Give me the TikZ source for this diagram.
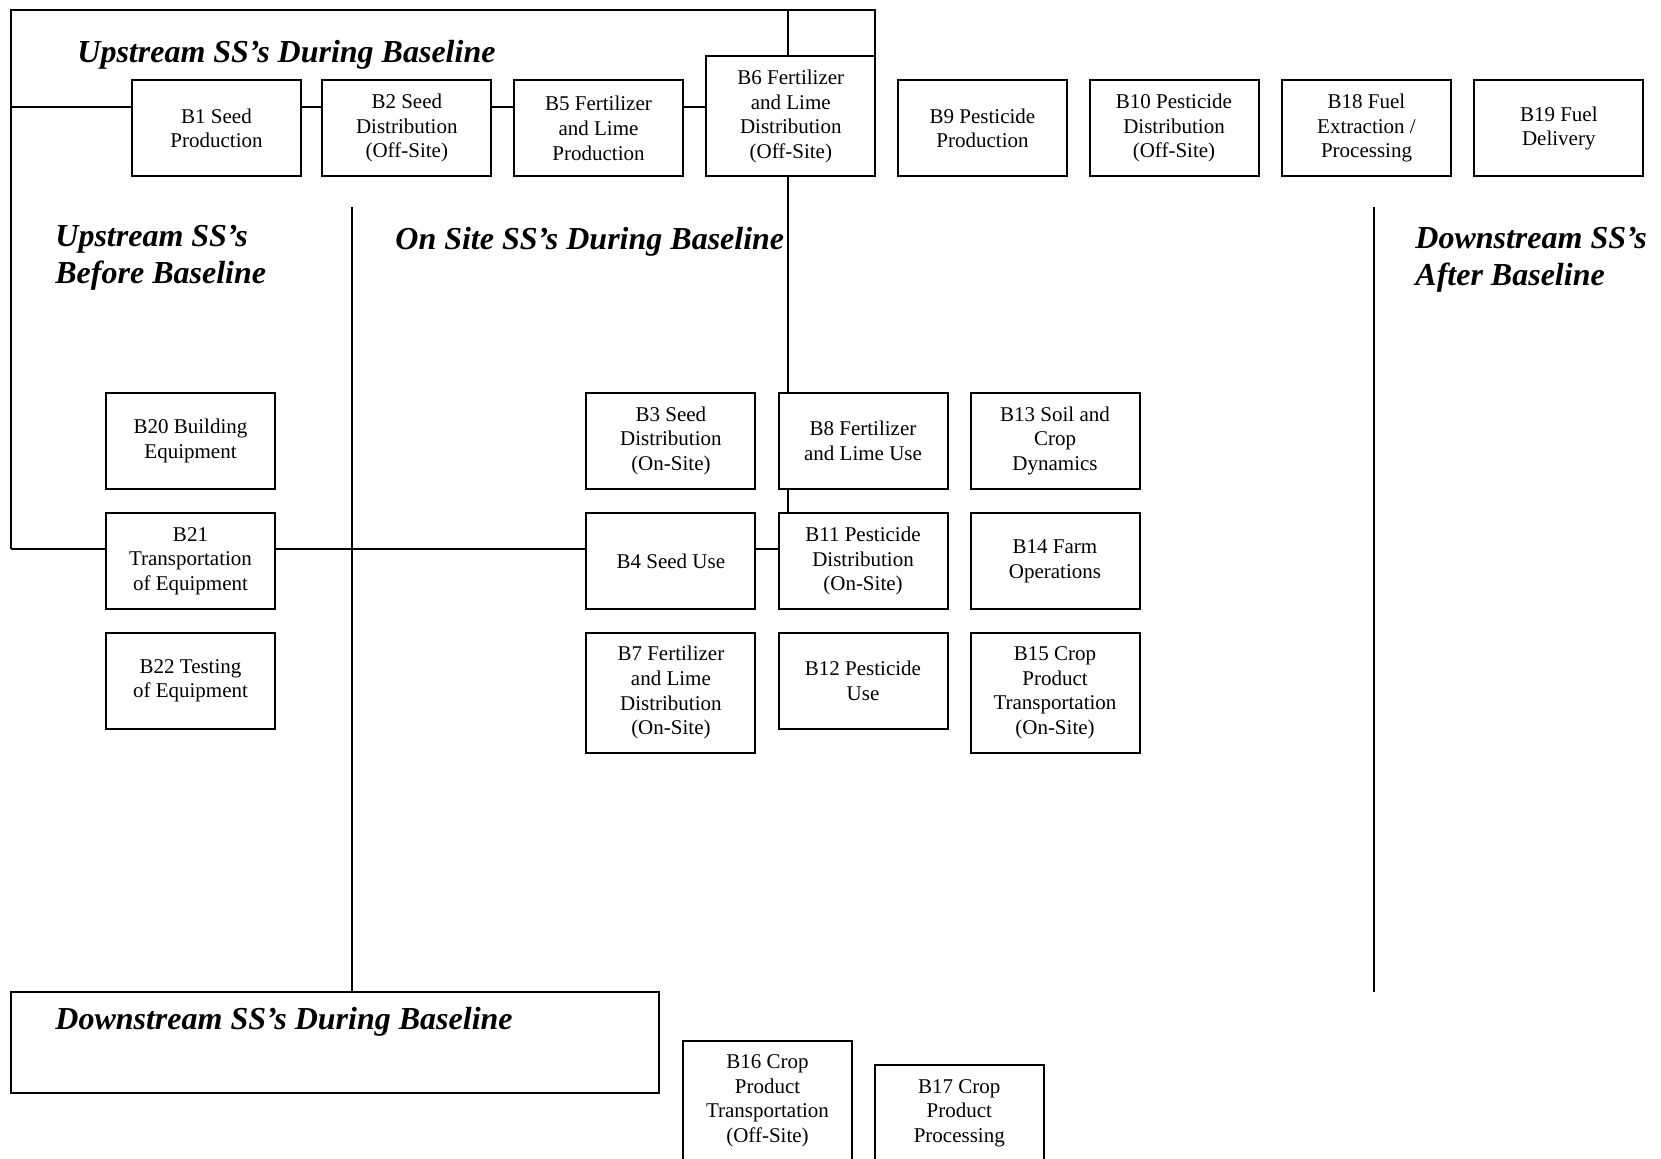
\documentclass[tikz,border=0pt]{standalone}
\usepackage{fontspec}
\setmainfont{Liberation Serif}
\begin{document}
\begin{tikzpicture}[x=0.5pt,y=-0.5pt,
  box/.style={draw, line width=1pt, minimum width=84.5pt, minimum height=48pt, inner sep=0pt, outer sep=0pt, align=center, font=\fontsize{10.5}{12.3}\selectfont},
  tall/.style={box, minimum height=60pt},
  ttl/.style={anchor=base west, inner sep=0pt, font=\fontsize{16}{18.5}\selectfont\bfseries\itshape},
  ln/.style={line width=1pt}]
\useasboundingbox (0,0) rectangle (1661,1158);
\clip (0,0) rectangle (1661,1158);
\fill[white] (0,0) rectangle (1661,1158);

% top row
\node[box] (b1) at (216.5,128.3) {B1 Seed\\Production};
\node[box] (b2) at (406.8,128.3) {B2 Seed\\Distribution\\(Off-Site)};
\node[box] (b5) at (598.5,128.3) {B5 Fertilizer\\and Lime\\Production};
\node[tall] (b6) at (790.8,116.3) {B6 Fertilizer\\and Lime\\Distribution\\(Off-Site)};
\node[box] (b9) at (982.5,128.3) {B9 Pesticide\\Production};
\node[box] (b10) at (1174,128.3) {B10 Pesticide\\Distribution\\(Off-Site)};
\node[box] (b18) at (1366.5,128.3) {B18 Fuel\\Extraction /\\Processing};
\node[box] (b19) at (1558.8,128.3) {B19 Fuel\\Delivery};

% left column
\node[box] (b20) at (190.5,440.8) {B20 Building\\Equipment};
\node[box] (b21) at (190.5,561) {B21\\Transportation\\of Equipment};
\node[box] (b22) at (190.5,680.7) {B22 Testing\\of Equipment};

% on-site grid
\node[box] (b3) at (670.9,440.8) {B3 Seed\\Distribution\\(On-Site)};
\node[box] (b8) at (863,440.8) {B8 Fertilizer\\and Lime Use};
\node[box] (b13) at (1055,440.8) {B13 Soil and\\Crop\\Dynamics};
\node[box] (b4) at (670.9,561) {B4 Seed Use};
\node[box] (b11) at (863,561) {B11 Pesticide\\Distribution\\(On-Site)};
\node[box] (b14) at (1055,561) {B14 Farm\\Operations};
\node[tall] (b7) at (670.9,692.7) {B7 Fertilizer\\and Lime\\Distribution\\(On-Site)};
\node[box] (b12) at (863,680.7) {B12 Pesticide\\Use};
\node[tall] (b15) at (1055,692.7) {B15 Crop\\Product\\Transportation\\(On-Site)};

% bottom
\node[draw, line width=1pt, minimum width=324.2pt, minimum height=50.5pt, inner sep=0pt, outer sep=0pt] (ds) at (334.8,1042.2) {};
\node[tall] (b16) at (767.5,1100.7) {B16 Crop\\Product\\Transportation\\(Off-Site)};
\node[box] (b17) at (959.3,1113) {B17 Crop\\Product\\Processing};

% titles
\node[ttl] (t1) at (77,62) {Upstream SS’s During Baseline};
\node[ttl] (t2a) at (55,246) {Upstream SS’s};
\node[ttl] (t2b) at (55,283) {Before Baseline};
\node[ttl] (t3) at (395,249) {On Site SS’s During Baseline};
\node[ttl] (t4a) at (1415,248) {Downstream SS’s};
\node[ttl] (t4b) at (1415,285) {After Baseline};
\node[ttl] (t5) at (55,1029) {Downstream SS’s During Baseline};

% connectors
\coordinate (tl) at (10.6,9.5);
\coordinate (vx) at (788,9.5);
\coordinate (h1) at (10.6,107);
\coordinate (h2) at (10.6,548.7);
\coordinate (v1) at (351.7,206.6);
\coordinate (v2) at (1374,206.6);

\draw[ln] (h2) -- (tl) -- (tl -| b6.north east) -- (b6.north east);
\draw[ln] (vx) -- (vx |- b6.north);
\draw[ln] (vx |- b6.south) -- (vx |- b8.north);
\draw[ln] (vx |- b8.south) -- (vx |- b11.north);

\draw[ln] (h1) -- (h1 -| b1.west);
\draw[ln] (h1 -| b1.east) -- (h1 -| b2.west);
\draw[ln] (h1 -| b2.east) -- (h1 -| b5.west);
\draw[ln] (h1 -| b5.east) -- (h1 -| b6.west);

\draw[ln] (h2) -- (h2 -| b21.west);
\draw[ln] (h2 -| b21.east) -- (h2 -| b4.west);
\draw[ln] (h2 -| b4.east) -- (h2 -| b11.west);

\draw[ln] (v1) -- (v1 |- ds.north);
\draw[ln] (v2) -- (v2 |- ds.north);
\end{tikzpicture}
\end{document}
